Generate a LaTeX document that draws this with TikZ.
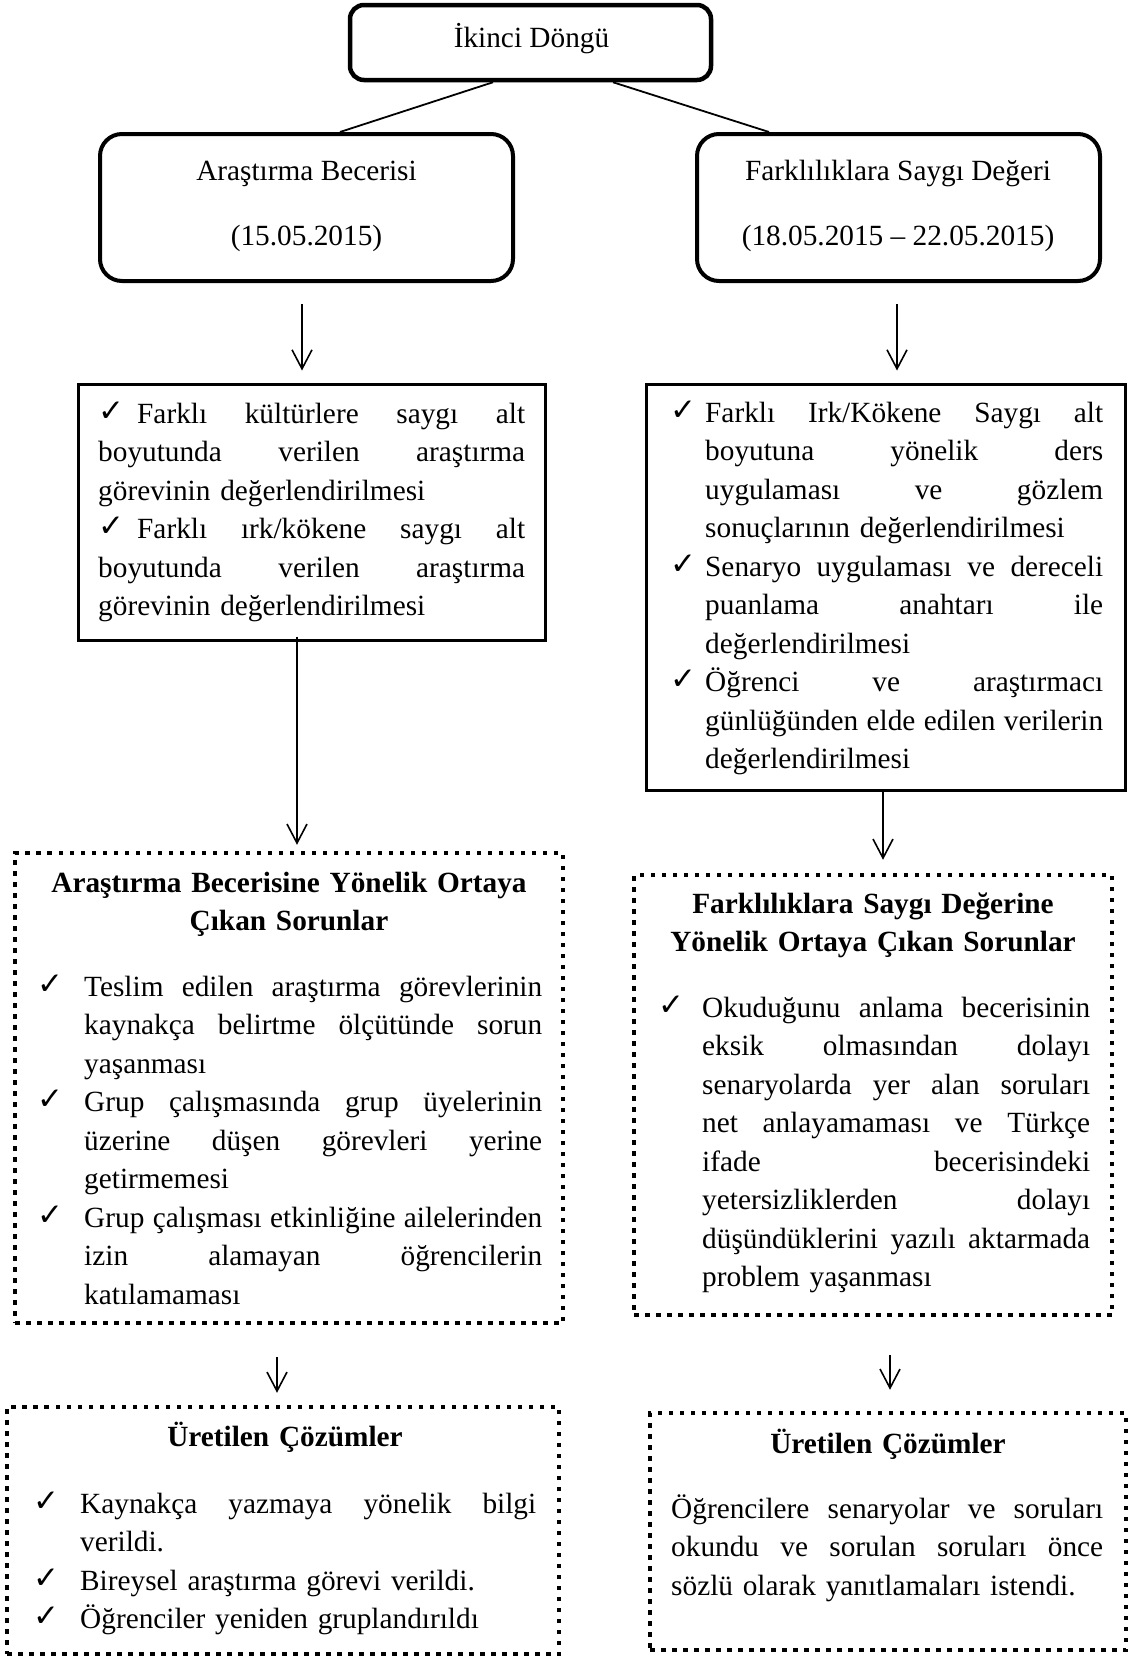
\documentclass[tikz,border=0pt]{standalone}
\usepackage{fontspec}
\setmainfont{Liberation Serif}
\newfontfamily\ckfont{DejaVu Sans}
\usetikzlibrary{arrows.meta,calc}

% check mark used in the lists
\newcommand{\ckmark}{\raisebox{2pt}{\ckfont\fontsize{31}{31}\selectfont ✓}}
% a line stretched to a given width (justified)
\newcommand{\jln}[2]{{\spaceskip=0pt\xspaceskip=0pt\makebox[#1pt][s]{#2}}}
% a column holding the check mark
\newcommand{\ckc}[1]{\makebox[#1pt][l]{\ckmark}}
% hanging indent for continuation lines
\newcommand{\hind}[1]{\hspace*{#1pt}}

\begin{document}
\begin{tikzpicture}[x=1pt,y=-1pt,
  every node/.style={font=\fontsize{29.3}{38.5}\selectfont},
  rnd/.style={draw, line width=4.5pt, rounded corners=14pt, inner sep=0},
  rndbig/.style={draw, line width=4pt, rounded corners=22pt, inner sep=0},
  sbox/.style={draw, line width=3pt, inner sep=0},
  dbox/.style={draw, line width=4.5pt, dash pattern=on 4.5pt off 6.5pt, inner sep=0},
  lbl/.style={inner sep=0, anchor=base},
  blk/.style={inner sep=0, anchor=base west},
  ttl/.style={inner sep=0, anchor=base, font=\fontsize{29.3}{38.5}\selectfont\bfseries},
  link/.style={line width=1.8pt},
  arr/.style={line width=1.6pt, -{Straight Barb[length=19pt,width=20pt]}}
]
\useasboundingbox (0,0) rectangle (1129,1657);

% ---- frames ----
\node[rnd, minimum width=361pt, minimum height=75pt] (top) at (530.5,42.5) {};
\node[rndbig, minimum width=413pt, minimum height=147pt] (midL) at (306.5,207.5) {};
\node[rndbig, minimum width=403pt, minimum height=147pt] (midR) at (898.5,207.5) {};
\node[sbox, minimum width=467pt, minimum height=256pt] (L1) at (312,512.5) {};
\node[sbox, minimum width=479pt, minimum height=406pt] (R1) at (886,587.5) {};
\node[dbox, minimum width=548pt, minimum height=470pt] (L2) at (289,1088) {};
\node[dbox, minimum width=478pt, minimum height=440pt] (R2) at (873,1095) {};
\node[dbox, minimum width=552pt, minimum height=247pt] (L3) at (283,1530.5) {};
\node[dbox, minimum width=476pt, minimum height=237pt] (R3) at (888,1531.5) {};

% ---- headings of the upper frames ----
\node[lbl] (tTop) at (531.5,47) {İkinci Döngü};
\node[lbl] (tMidLa) at (306.5,180) {Araştırma Becerisi};
\node[lbl] (tMidLb) at (306.5,245) {(15.05.2015)};
\node[lbl] (tMidRa) at (898,180) {Farklılıklara Saygı Değeri};
\node[lbl] (tMidRb) at (898,245) {(18.05.2015 – 22.05.2015)};

% ---- evaluation lists ----
\node[blk, text width=427pt] (tL1) at (98,423) {%
\ckc{39}\jln{388}{Farklı kültürlere saygı alt}\\
\jln{427}{boyutunda verilen araştırma}\\
görevinin değerlendirilmesi\\
\ckc{39}\jln{388}{Farklı ırk/kökene saygı alt}\\
\jln{427}{boyutunda verilen araştırma}\\
görevinin değerlendirilmesi};

\node[blk, text width=433pt] (tR1) at (670,422) {%
\ckc{35}\jln{398}{Farklı Irk/Kökene Saygı alt}\\
\hind{35}\jln{398}{boyutuna yönelik ders}\\
\hind{35}\jln{398}{uygulaması ve gözlem}\\
\hind{35}sonuçlarının değerlendirilmesi\\
\ckc{35}\jln{398}{Senaryo uygulaması ve dereceli}\\
\hind{35}\jln{398}{puanlama anahtarı ile}\\
\hind{35}değerlendirilmesi\\
\ckc{35}\jln{398}{Öğrenci ve araştırmacı}\\
\hind{35}\jln{398}{günlüğünden elde edilen verilerin}\\
\hind{35}değerlendirilmesi};

% ---- problems ----
\node[ttl, text width=540pt] (hL2) at (289,892) {\centering Araştırma Becerisine Yönelik Ortaya\\Çıkan Sorunlar\par};
\node[blk, text width=505pt] (tL2) at (37,996) {%
\ckc{47}\jln{458}{Teslim edilen araştırma görevlerinin}\\
\hind{47}\jln{458}{kaynakça belirtme ölçütünde sorun}\\
\hind{47}yaşanması\\
\ckc{47}\jln{458}{Grup çalışmasında grup üyelerinin}\\
\hind{47}\jln{458}{üzerine düşen görevleri yerine}\\
\hind{47}getirmemesi\\
\ckc{47}\jln{458}{Grup çalışması etkinliğine ailelerinden}\\
\hind{47}\jln{458}{izin alamayan öğrencilerin}\\
\hind{47}katılamaması};

\node[ttl, text width=470pt] (hR2) at (873,913) {\centering Farklılıklara Saygı Değerine\\Yönelik Ortaya Çıkan Sorunlar\par};
\node[blk, text width=432pt] (tR2) at (658,1017) {%
\ckc{44}\jln{388}{Okuduğunu anlama becerisinin}\\
\hind{44}\jln{388}{eksik olmasından dolayı}\\
\hind{44}\jln{388}{senaryolarda yer alan soruları}\\
\hind{44}\jln{388}{net anlayamaması ve Türkçe}\\
\hind{44}\jln{388}{ifade becerisindeki}\\
\hind{44}\jln{388}{yetersizliklerden dolayı}\\
\hind{44}\jln{388}{düşündüklerini yazılı aktarmada}\\
\hind{44}problem yaşanması};

% ---- solutions ----
\node[ttl, text width=540pt] (hL3) at (285,1446) {\centering Üretilen Çözümler\par};
\node[blk, text width=503pt] (tL3) at (33,1513) {%
\ckc{47}\jln{456}{Kaynakça yazmaya yönelik bilgi}\\
\hind{47}verildi.\\
\ckc{47}Bireysel araştırma görevi verildi.\\
\ckc{47}Öğrenciler yeniden gruplandırıldı};

\node[ttl, text width=470pt] (hR3) at (888,1453) {\centering Üretilen Çözümler\par};
\node[blk, text width=432pt] (tR3) at (671,1518) {%
\jln{432}{Öğrencilere senaryolar ve soruları}\\
\jln{432}{okundu ve sorulan soruları önce}\\
sözlü olarak yanıtlamaları istendi.};

% ---- connectors ----
\draw[link] ($(top.south)+(-37.5,0)$) -- ($(midL.north)+(33.5,0)$);
\draw[link] ($(top.south)+(82.5,0)$) -- ($(midR.north)+(-129.5,0)$);

\draw[arr, shorten <=21pt, shorten >=12.5pt] (midL.south -| 302,0) -- (L1.north -| 302,0);
\draw[arr, shorten <=21pt, shorten >=12.5pt] (midR.south -| 897,0) -- (R1.north -| 897,0);
\draw[arr, shorten <=-5.5pt, shorten >=6pt] (L1.south -| 297,0) -- (L2.north -| 297,0);
\draw[arr, shorten <=0pt, shorten >=13pt] (R1.south -| 883,0) -- (R2.north -| 883,0);
\draw[arr, shorten <=32pt, shorten >=12pt] (L2.south -| 277,0) -- (L3.north -| 277,0);
\draw[arr, shorten <=38pt, shorten >=21pt] (R2.south -| 890,0) -- (R3.north -| 890,0);
\end{tikzpicture}
\end{document}
